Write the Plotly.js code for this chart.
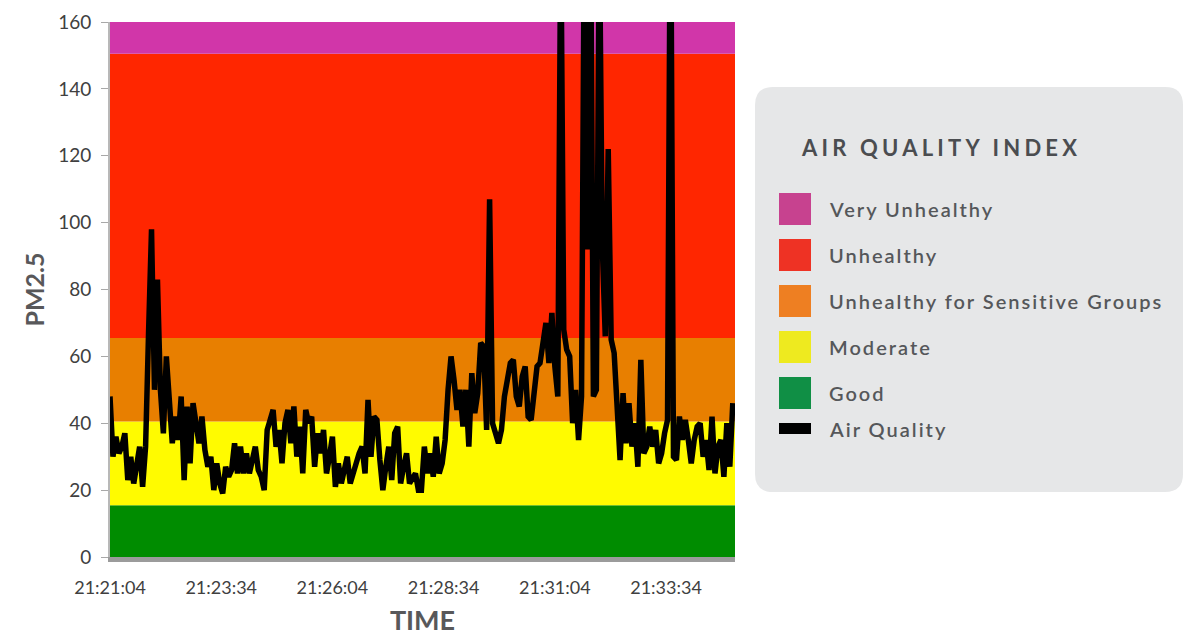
<!DOCTYPE html>
<html><head><meta charset="utf-8">
<script src="https://cdn.plot.ly/plotly-3.0.1.min.js"></script>
<style>html,body{margin:0;padding:0;background:#fff;} #chart{width:1187px;height:637px;}</style>
</head><body><div id="chart"></div>
<script>
// ---- data ----
const startDate = '2024-01-01';
const startClock = [21, 21, 4];   // first reading 21:21:04
const stepSeconds = 4;
const pm25 = [
  48,30,36,31,33,37,23,30,22,27,
  33,21,33,67,98,50,83,50,37,60,
  45,34,42,35,48,23,45,28,46,40,
  34,42,32,27,30,20,28,22,19,27,
  24,26,34,25,33,25,31,25,30,33,
  26,24,20,38,41,44,33,38,28,40,
  44,34,45,30,39,25,44,40,42,27,
  37,31,38,25,30,36,21,28,22,27,
  30,22,25,29,31,33,25,47,30,42,
  41,29,20,27,33,23,37,39,22,27,
  31,22,24,25,20,20,33,25,31,24,
  36,25,28,35,50,60,53,44,50,39,
  50,33,55,43,49,64,63,38,107,40,
  37,34,38,48,53,58,59,48,45,54,
  57,42,41,50,57,58,65,70,58,73,
  57,48,190,68,62,60,40,50,35,48,
  200,92,200,48,50,190,93,66,122,65,
  61,42,29,49,34,46,33,40,27,59,
  31,33,39,33,38,28,31,37,41,210,
  30,29,42,35,41,35,28,35,39,40,
  30,35,26,42,25,33,35,24,40,27,46
];
const bandNames  = ['Good','Moderate','Unhealthy for Sensitive Groups','Unhealthy','Very Unhealthy'];
const bandLower  = [0, 15.5, 40.5, 65.5, 150.5];
const bandUpper  = [15.5, 40.5, 65.5, 150.5, 250.5];
const bandColors = ['#008c00','#fffb00','#e87f00','#ff2600','#d136a9'];
const legendColors = ['#108f45','#eeea1f','#ee7f22','#ee3224','#c7428f'];
const legendTitle = 'AIR QUALITY INDEX';
const lineName = 'Air Quality';
const yRange = [0, 160];
const xEndSeconds = 843;
const tickSeconds = 150;

// ---- helpers ----
function clock(sec){
  let t = startClock[0]*3600 + startClock[1]*60 + startClock[2] + sec;
  const h = Math.floor(t/3600), m = Math.floor((t%3600)/60), s = t%60;
  const p = n => String(n).padStart(2,'0');
  return startDate + ' ' + p(h) + ':' + p(m) + ':' + p(s);
}
const times = pm25.map((_, i) => clock(i*stepSeconds));

const W = 1187, H = 637;
const M = {l:110, r:452, t:22, b:80};
const PW = W - M.l - M.r, PH = H - M.t - M.b;
const px = x => (x - M.l) / PW;
const py = y => (H - M.b - y) / PH;

const shapes = [];
bandLower.forEach((lo, i) => {
  shapes.push({type:'rect', xref:'paper', yref:'y', x0:0, x1:1,
    y0:lo, y1:Math.min(bandUpper[i], yRange[1]), fillcolor:bandColors[i],
    line:{width:0}, layer:'below'});
});
(function(){
  const x0=755, x1=1183, y0=87, y1=492, r=18;
  const P = (x,y) => px(x).toFixed(5)+','+py(y).toFixed(5);
  const d = 'M'+P(x0+r,y0)+' L'+P(x1-r,y0)+' Q'+P(x1,y0)+' '+P(x1,y0+r)+
    ' L'+P(x1,y1-r)+' Q'+P(x1,y1)+' '+P(x1-r,y1)+' L'+P(x0+r,y1)+' Q'+P(x0,y1)+' '+P(x0,y1-r)+
    ' L'+P(x0,y0+r)+' Q'+P(x0,y0)+' '+P(x0+r,y0)+' Z';
  shapes.push({type:'path', xref:'paper', yref:'paper', path:d, fillcolor:'#e6e7e8', line:{width:0}});
})();

const annotations = [];
const legFont = {family:'Lato, "Open Sans", sans-serif', size:20, color:'#55575a', weight:600};
annotations.push({xref:'paper', yref:'paper', x:px(799), y:py(147), xanchor:'left', yanchor:'middle', align:'left',
  text:'<b>'+legendTitle+'</b>', showarrow:false,
  font:{family:'Lato, "Open Sans", sans-serif', size:22, color:'#4b4d50'}});
const rowCenters = [209, 255, 301, 347, 393];
for (let k = 0; k < bandNames.length; k++){
  const i = bandNames.length - 1 - k;
  const c = rowCenters[k];
  shapes.push({type:'rect', xref:'paper', yref:'paper', x0:px(779), x1:px(811), y0:py(c+16), y1:py(c-16),
    fillcolor:legendColors[i], line:{width:0}});
  annotations.push({xref:'paper', yref:'paper', x:px(827), y:py(c), xanchor:'left', yanchor:'middle', align:'left',
    text:bandNames[i], showarrow:false, font:legFont});
}
shapes.push({type:'rect', xref:'paper', yref:'paper', x0:px(779), x1:px(811), y0:py(434), y1:py(423),
  fillcolor:'#000', line:{width:0}});
annotations.push({xref:'paper', yref:'paper', x:px(827), y:py(429), xanchor:'left', yanchor:'middle', align:'left',
  text:lineName, showarrow:false, font:legFont});

const trace = {type:'scatter', mode:'lines', x:times, y:pm25, name:lineName,
  line:{color:'#000', width:5.5, shape:'linear'}, showlegend:false, hoverinfo:'x+y'};

const layout = {
  width:W, height:H, margin:M,
  paper_bgcolor:'#fff', plot_bgcolor:'#fff',
  showlegend:false,
  font:{family:'Lato, "Open Sans", sans-serif', color:'#404040'},
  xaxis:{type:'date', range:[clock(0), clock(xEndSeconds)], tick0:clock(0), dtick:tickSeconds*1000,
    tickformat:'%H:%M:%S', showgrid:false, zeroline:false, showline:true, linecolor:'#9b9b9b', linewidth:5,
    ticks:'', ticklabelstandoff:10, tickfont:{size:18, color:'#404040'},
    title:{text:'<b>TIME</b>', font:{family:'"Liberation Sans Narrow", Lato, sans-serif', size:27, color:'#58585a'}, standoff:16}},
  yaxis:{range:yRange, dtick:20, showgrid:false, zeroline:false, showline:true, linecolor:'#b8b8b8', linewidth:2,
    ticks:'outside', ticklen:7, tickcolor:'#a8a8a8', tickwidth:1, ticklabelstandoff:6, tickfont:{size:19, color:'#404040'},
    title:{text:'<b>PM2.5</b>', font:{size:25, color:'#58585a'}, standoff:6}},
  shapes:shapes, annotations:annotations
};

Plotly.newPlot('chart', [trace], layout, {staticPlot:true, displayModeBar:false}).then(gd => {
  gd.querySelectorAll('.annotation-text').forEach(t => {
    t.style.letterSpacing = (t.textContent === legendTitle) ? '4.2px' : '2px';
  });
});
</script></body></html>
